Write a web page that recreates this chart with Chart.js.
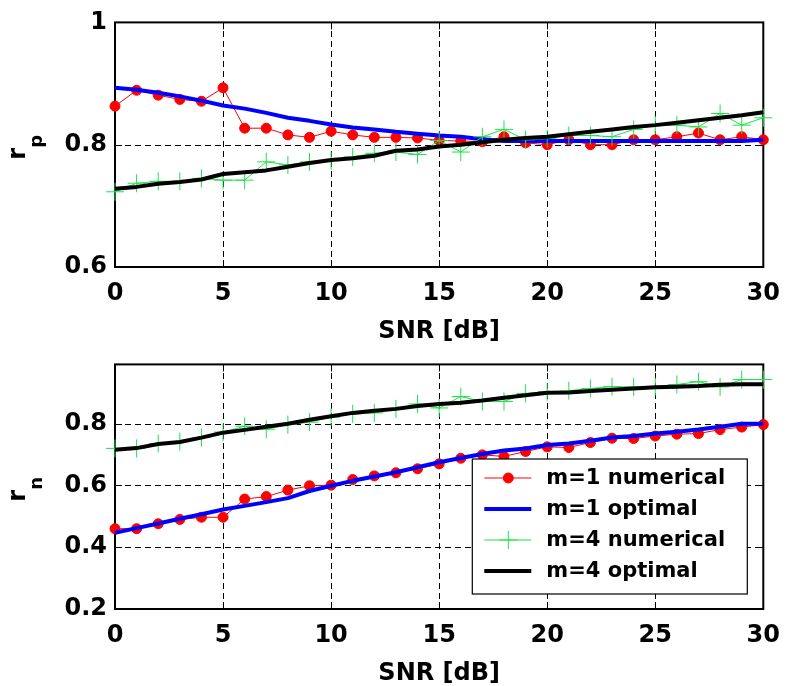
<!DOCTYPE html>
<html>
<head>
<meta charset="utf-8">
<script src="https://cdn.jsdelivr.net/npm/chart.js@4/dist/chart.umd.min.js"></script>
<style>
  html, body { margin: 0; padding: 0; background: #fff; }
  body { width: 792px; height: 686px; position: relative; overflow: hidden; }
  canvas { position: absolute; left: 0; }
  #rpChart { top: 0; }
  #rnChart { top: 342px; }
</style>
</head>
<body>
<canvas id="rpChart" width="792" height="350"></canvas>
<canvas id="rnChart" width="792" height="350"></canvas>
<script>
// SNR axis (dB)
var snr = [0, 1, 2, 3, 4, 5, 6, 7, 8, 9, 10, 11, 12, 13, 14, 15,
           16, 17, 18, 19, 20, 21, 22, 23, 24, 25, 26, 27, 28, 29, 30];
var xTicks = [0, 5, 10, 15, 20, 25, 30];

// r_p
var rpNum1 = [0.863, 0.889, 0.881, 0.874, 0.871, 0.893, 0.827, 0.827, 0.816, 0.812, 0.822,
              0.816, 0.812, 0.812, 0.811, 0.807, 0.806, 0.805, 0.813, 0.803, 0.800,
              0.808, 0.800, 0.800, 0.808, 0.808, 0.813, 0.819, 0.808, 0.813, 0.808];
var rpOpt1 = [0.893, 0.890, 0.885, 0.879, 0.872, 0.864, 0.859, 0.852, 0.844, 0.839, 0.833,
              0.828, 0.825, 0.821, 0.818, 0.815, 0.813, 0.809, 0.806, 0.806, 0.806,
              0.806, 0.806, 0.806, 0.806, 0.806, 0.806, 0.806, 0.806, 0.806, 0.808];
var rpNum4 = [0.723, 0.737, 0.740, 0.740, 0.745, 0.742, 0.742, 0.772, 0.767, 0.772, 0.774,
              0.780, 0.786, 0.788, 0.784, 0.807, 0.788, 0.813, 0.825, 0.808, 0.810,
              0.815, 0.815, 0.813, 0.825, 0.832, 0.832, 0.829, 0.851, 0.832, 0.844];
var rpOpt4 = [0.728, 0.731, 0.736, 0.739, 0.743, 0.752, 0.755, 0.758, 0.764, 0.770, 0.775,
              0.778, 0.782, 0.790, 0.792, 0.797, 0.800, 0.804, 0.808, 0.811, 0.813,
              0.817, 0.821, 0.825, 0.829, 0.832, 0.836, 0.840, 0.844, 0.848, 0.853];
var rpTicks = [0.6, 0.8, 1];

// r_n
var rnNum1 = [0.460, 0.460, 0.476, 0.490, 0.497, 0.497, 0.556, 0.564, 0.585, 0.599, 0.601,
              0.619, 0.631, 0.641, 0.654, 0.670, 0.688, 0.699, 0.694, 0.710, 0.725,
              0.723, 0.739, 0.753, 0.752, 0.760, 0.766, 0.768, 0.781, 0.789, 0.797];
var rnOpt1 = [0.447, 0.462, 0.477, 0.492, 0.507, 0.522, 0.534, 0.546, 0.559, 0.582, 0.599,
              0.615, 0.629, 0.643, 0.659, 0.675, 0.689, 0.702, 0.713, 0.720, 0.731,
              0.736, 0.745, 0.755, 0.760, 0.768, 0.774, 0.781, 0.790, 0.800, 0.800];
var rnNum4 = [0.720, 0.720, 0.736, 0.742, 0.755, 0.773, 0.792, 0.782, 0.797, 0.805, 0.821,
              0.832, 0.835, 0.848, 0.864, 0.851, 0.888, 0.872, 0.872, 0.898, 0.904,
              0.907, 0.914, 0.920, 0.919, 0.920, 0.927, 0.936, 0.919, 0.943, 0.943];
var rnOpt4 = [0.716, 0.721, 0.734, 0.741, 0.755, 0.771, 0.780, 0.790, 0.800, 0.813, 0.824,
              0.835, 0.842, 0.848, 0.857, 0.864, 0.868, 0.875, 0.884, 0.892, 0.900,
              0.901, 0.906, 0.910, 0.914, 0.918, 0.920, 0.922, 0.926, 0.928, 0.928];
var rnTicks = [0.2, 0.4, 0.6, 0.8];

var seriesNames = ['m=1 numerical', 'm=1 optimal', 'm=4 numerical', 'm=4 optimal'];

Chart.defaults.font.family = '"DejaVu Sans", sans-serif';
Chart.defaults.font.weight = 'bold';
Chart.defaults.color = '#000';

function pts(ys) {
  return snr.map(function (s, i) { return { x: s, y: ys[i] }; });
}

// dashed grid, box, inward tick marks and the rotated r_x label
var axesBox = {
  id: 'axesBox',
  beforeDatasetsDraw: function (chart, args, opts) {
    var ctx = chart.ctx, a = chart.chartArea;
    var xs = chart.scales.x, ys = chart.scales.y;
    ctx.save();
    ctx.strokeStyle = '#000';
    ctx.lineWidth = 1;

    ctx.setLineDash([6, 4]);
    ctx.beginPath();
    xTicks.forEach(function (v) {
      var px = Math.round(xs.getPixelForValue(v)) + 0.5;
      ctx.moveTo(px, a.bottom); ctx.lineTo(px, a.top);
    });
    opts.yTicks.forEach(function (v) {
      var py = Math.round(ys.getPixelForValue(v)) + 0.5;
      ctx.moveTo(a.left, py); ctx.lineTo(a.right, py);
    });
    ctx.stroke();

    ctx.setLineDash([]);
    ctx.beginPath();
    xTicks.forEach(function (v) {
      var px = Math.round(xs.getPixelForValue(v)) + 0.5;
      ctx.moveTo(px, a.bottom); ctx.lineTo(px, a.bottom - 7);
      ctx.moveTo(px, a.top); ctx.lineTo(px, a.top + 7);
    });
    opts.yTicks.forEach(function (v) {
      var py = Math.round(ys.getPixelForValue(v)) + 0.5;
      ctx.moveTo(a.left, py); ctx.lineTo(a.left + 7, py);
      ctx.moveTo(a.right, py); ctx.lineTo(a.right - 7, py);
    });
    ctx.stroke();
    ctx.lineWidth = 2;
    ctx.strokeRect(a.left, a.top, a.right - a.left, a.bottom - a.top);

    var mid = (a.top + a.bottom) / 2;
    ctx.translate(25, mid + 15);
    ctx.rotate(-Math.PI / 2);
    ctx.fillStyle = '#000';
    ctx.textBaseline = 'alphabetic';
    ctx.textAlign = 'left';
    ctx.font = 'bold 24px "DejaVu Sans"';
    ctx.fillText('r', 0, 0);
    var w = ctx.measureText('r').width;
    ctx.font = 'bold 18px "DejaVu Sans"';
    ctx.fillText(opts.sub, w, 16.5);
    ctx.restore();
  }
};

// legend box in the lower right corner of the plot
var cornerLegend = {
  id: 'cornerLegend',
  afterDraw: function (chart, args, opts) {
    if (!opts.show) return;
    var ctx = chart.ctx, a = chart.chartArea;
    var w = 275, h = 135;
    var left = a.right - 16 - w, top = a.bottom - 15 - h;
    ctx.save();
    ctx.fillStyle = '#fff';
    ctx.fillRect(left, top, w, h);
    ctx.strokeStyle = '#000';
    ctx.lineWidth = 1.2;
    ctx.strokeRect(left, top, w, h);
    chart.data.datasets.forEach(function (ds, i) {
      var cy = top + 19 + i * 31;
      var mx = left + 36;
      ctx.strokeStyle = ds.borderColor;
      ctx.lineWidth = ds.borderWidth;
      ctx.lineCap = 'butt';
      ctx.beginPath();
      ctx.moveTo(left + 12, cy);
      ctx.lineTo(left + 59, cy);
      ctx.stroke();
      if (ds.pointRadius > 0) {
        ctx.fillStyle = ds.pointBackgroundColor;
        ctx.strokeStyle = ds.pointBorderColor;
        ctx.lineWidth = ds.pointBorderWidth;
        ctx.beginPath();
        if (ds.pointStyle === 'circle') {
          ctx.arc(mx, cy, ds.pointRadius, 0, Math.PI * 2);
          ctx.fill();
          ctx.stroke();
        } else {
          ctx.moveTo(mx - ds.pointRadius, cy);
          ctx.lineTo(mx + ds.pointRadius, cy);
          ctx.moveTo(mx, cy - ds.pointRadius);
          ctx.lineTo(mx, cy + ds.pointRadius);
          ctx.stroke();
        }
      }
      ctx.fillStyle = '#000';
      ctx.font = 'bold 21px "DejaVu Sans"';
      ctx.textBaseline = 'middle';
      ctx.textAlign = 'left';
      ctx.fillText(ds.label, left + 74, cy + 1);
    });
    ctx.restore();
  }
};

function makeChart(id, num1, opt1, num4, opt4, yTicks, yMin, yMax, sub, padTop, showLegend) {
  var el = document.getElementById(id);
  return new Chart(el, {
    type: 'line',
    data: {
      datasets: [
        {
          label: seriesNames[0], data: pts(num1), order: 4,
          borderColor: '#ff0000', borderWidth: 1,
          pointStyle: 'circle', pointRadius: 5, pointBorderWidth: 1,
          pointBackgroundColor: '#ff0000', pointBorderColor: '#ff0000',
          clip: false
        },
        {
          label: seriesNames[1], data: pts(opt1), order: 3,
          borderColor: '#0000ff', borderWidth: 4, pointRadius: 0,
          borderJoinStyle: 'round', clip: false
        },
        {
          label: seriesNames[2], data: pts(num4), order: 2,
          borderColor: '#1ee34a', borderWidth: 1,
          pointStyle: 'cross', pointRadius: 9, pointBorderWidth: 1,
          pointBackgroundColor: '#1ee34a', pointBorderColor: '#1ee34a',
          clip: false
        },
        {
          label: seriesNames[3], data: pts(opt4), order: 1,
          borderColor: '#000000', borderWidth: 4, pointRadius: 0,
          borderJoinStyle: 'round', clip: false
        }
      ]
    },
    options: {
      responsive: false,
      animation: false,
      events: [],
      layout: { padding: { top: padTop, right: 20, left: 0, bottom: 0 } },
      elements: { line: { tension: 0 } },
      plugins: {
        legend: { display: false },
        tooltip: { enabled: false },
        axesBox: { yTicks: yTicks, sub: sub },
        cornerLegend: { show: showLegend }
      },
      scales: {
        x: {
          type: 'linear', min: 0, max: 30,
          afterBuildTicks: function (s) { s.ticks = xTicks.map(function (v) { return { value: v }; }); },
          afterFit: function (s) { s.height = 350 - 267; },
          grid: { display: false, drawTicks: false },
          border: { display: false },
          ticks: { padding: 12, font: { size: 24, weight: 'bold' }, color: '#000',
                   maxRotation: 0, callback: function (v) { return String(v); } },
          title: { display: true, text: 'SNR [dB]', font: { size: 24, weight: 'bold' },
                   color: '#000', padding: { top: 0, bottom: 4 } }
        },
        y: {
          type: 'linear', min: yMin, max: yMax,
          afterBuildTicks: function (s) { s.ticks = yTicks.map(function (v) { return { value: v }; }); },
          afterFit: function (s) { s.width = 115; },
          grid: { display: false, drawTicks: false },
          border: { display: false },
          ticks: { padding: 8, font: { size: 24, weight: 'bold' }, color: '#000',
                   callback: function (v) { return v === 1 ? '1' : v.toFixed(1); } }
        }
      }
    },
    plugins: [axesBox, cornerLegend]
  });
}

makeChart('rpChart', rpNum1, rpOpt1, rpNum4, rpOpt4, rpTicks, 0.6, 1, 'p', 22, false);
makeChart('rnChart', rnNum1, rnOpt1, rnNum4, rnOpt4, rnTicks, 0.2, 0.992, 'n', 18.7, true);
</script>
</body>
</html>
